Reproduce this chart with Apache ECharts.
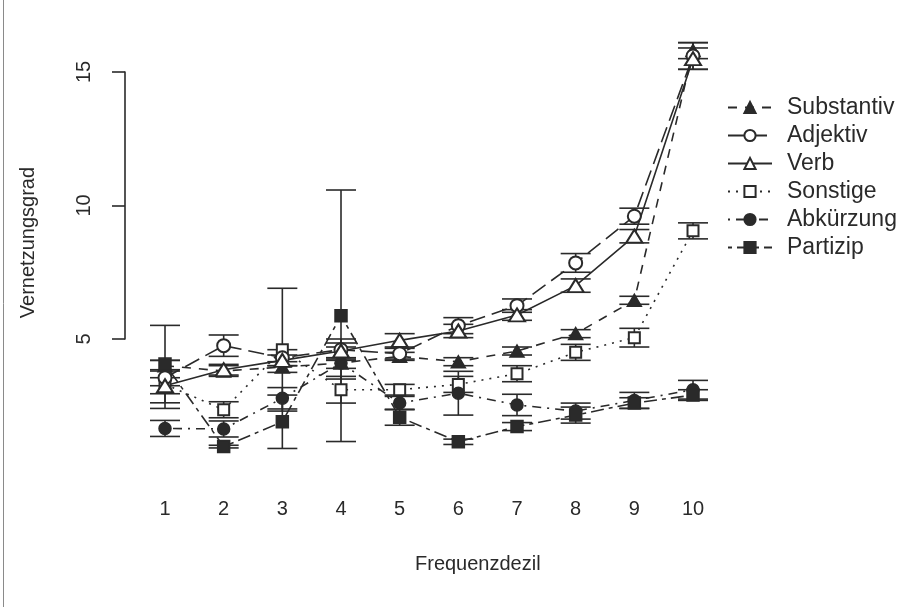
<!DOCTYPE html>
<html>
<head>
<meta charset="utf-8">
<script src="https://cdn.jsdelivr.net/npm/echarts@6/dist/echarts.min.js"></script>
<style>
html,body{margin:0;padding:0;background:#fff}
#main{width:916px;height:607px}
</style>
</head>
<body>
<div id="main"></div>
<script>
// Frequenzdezile
var deciles = ['1', '2', '3', '4', '5', '6', '7', '8', '9', '10'];
var yTicks = [5, 10, 15];

// Mittelwerte und Fehlerbalken je Wortart
var substantiv    = [4.0, 3.8, 3.95, 4.1, 4.35, 4.15, 4.55, 5.2, 6.45, 15.8];
var substantivErr = [0.2, 0.2, 0.2, 0.2, 0.15, 0.15, 0.15, 0.15, 0.15, 0.3];
var adjektiv      = [3.55, 4.75, 4.3, 4.6, 4.45, 5.5, 6.25, 7.85, 9.6, 15.6];
var adjektivErr   = [0.3, 0.4, 0.3, 0.4, 0.2, 0.3, 0.25, 0.35, 0.3, 0.5];
var verb          = [3.25, 3.85, 4.2, 4.55, 4.95, 5.3, 5.9, 7.0, 8.85, 15.5];
var verbErr       = [0.3, 0.2, 0.2, 0.3, 0.25, 0.25, 0.2, 0.25, 0.25, 0.4];
var sonstige      = [3.3, 2.35, 4.6, 3.1, 3.1, 3.3, 3.7, 4.5, 5.05, 9.05];
var sonstigeErr   = [0.9, 0.3, 2.3, 0.5, 0.2, 0.3, 0.3, 0.3, 0.35, 0.3];
var abkuerzung    = [1.65, 1.63, 2.78, 4.1, 2.6, 2.97, 2.53, 2.3, 2.7, 3.1];
var abkuerzungErr = [0.3, 0.3, 0.4, 0.6, 0.25, 0.82, 0.4, 0.3, 0.3, 0.35];
var partizip      = [4.06, 0.97, 1.9, 5.87, 2.07, 1.15, 1.72, 2.15, 2.6, 2.9];
var partizipErr   = [1.45, 0.05, 1.0, 4.71, 0.3, 0.1, 0.15, 0.3, 0.2, 0.2];

var ink = '#2a2a2a';
var font = 'Liberation Sans, Arial, sans-serif';

// order = legend order; layer = drawing order (higher on top)
var groups = [
    {name: 'Substantiv', values: substantiv, err: substantivErr, symbol: 'triangle', size: [14, 12], dash: [9, 8], layer: 3},
    {name: 'Adjektiv', values: adjektiv, err: adjektivErr, symbol: 'emptyCircle', size: 13, dash: [16, 7], layer: 4},
    {name: 'Verb', values: verb, err: verbErr, symbol: 'emptyTriangle', size: [16, 13], dash: 'solid', layer: 5},
    {name: 'Sonstige', values: sonstige, err: sonstigeErr, symbol: 'emptyRect', size: 11, dash: [2, 6], layer: 1},
    {name: 'Abkürzung', values: abkuerzung, err: abkuerzungErr, symbol: 'circle', size: 12, dash: [2, 6, 9, 6], layer: 2},
    {name: 'Partizip', values: partizip, err: partizipErr, symbol: 'rect', size: 12, dash: [4, 5, 13, 5], layer: 6}
];

// Fehlerbalken (Mittelwert +/- Fehler)
var errData = [];
groups.forEach(function (g) {
    g.values.forEach(function (v, i) {
        errData.push([i, v - g.err[i], v + g.err[i]]);
    });
});

function renderErrorBar(params, api) {
    var lo = api.coord([api.value(0), api.value(1)]);
    var hi = api.coord([api.value(0), api.value(2)]);
    var w = 15;
    var st = {stroke: ink, lineWidth: 1.6, fill: null};
    return {
        type: 'group',
        children: [
            {type: 'line', shape: {x1: hi[0], y1: hi[1], x2: lo[0], y2: lo[1]}, style: st},
            {type: 'line', shape: {x1: hi[0] - w, y1: hi[1], x2: hi[0] + w, y2: hi[1]}, style: st},
            {type: 'line', shape: {x1: lo[0] - w, y1: lo[1], x2: lo[0] + w, y2: lo[1]}, style: st}
        ]
    };
}

var series = [{
    type: 'custom',
    xAxisIndex: 0,
    yAxisIndex: 0,
    renderItem: renderErrorBar,
    encode: {x: 0, y: [1, 2]},
    data: errData,
    z: 1,
    silent: true
}];

groups.slice().sort(function (a, b) { return a.layer - b.layer; }).forEach(function (g) {
    series.push({
        name: g.name,
        type: 'line',
        xAxisIndex: 0,
        yAxisIndex: 0,
        data: g.values,
        symbol: g.symbol,
        symbolSize: g.size,
        showAllSymbol: true,
        lineStyle: {color: ink, width: 1.6, type: g.dash},
        itemStyle: {color: ink, borderColor: ink, borderWidth: 1.5},
        z: 3,
        animation: false
    });
});

var chart = echarts.init(document.getElementById('main'));

var option = {
    backgroundColor: '#fff',
    animation: false,
    textStyle: {fontFamily: font, color: ink},
    legend: {
        data: groups.map(function (g) { return g.name; }),
        orient: 'vertical',
        left: 722,
        top: 91,
        itemWidth: 44,
        itemHeight: 14,
        itemGap: 5,
        textStyle: {fontFamily: font, fontSize: 23, color: ink, padding: [0, 0, 0, 10]}
    },
    grid: [
        {left: 135.67, width: 586.67, top: 18.6, height: 453.9},
        {left: 125, width: 597, top: 72, height: 267}
    ],
    xAxis: [{
        type: 'category',
        gridIndex: 0,
        data: deciles,
        boundaryGap: true,
        axisLine: {show: false},
        axisTick: {show: false},
        axisLabel: {fontSize: 20, color: ink, fontFamily: font, margin: 27}
    }, {
        type: 'category',
        gridIndex: 1,
        data: deciles,
        show: false
    }],
    yAxis: [{
        type: 'value',
        gridIndex: 0,
        min: 0,
        max: 17,
        axisLine: {show: false},
        axisTick: {show: false},
        axisLabel: {show: false},
        splitLine: {show: false},
        name: 'Vernetzungsgrad',
        nameLocation: 'middle',
        nameRotate: 90,
        nameGap: 97,
        nameTextStyle: {fontSize: 20, color: ink, fontFamily: font, padding: [0, 0, 0, 6]}
    }, {
        type: 'value',
        gridIndex: 1,
        min: yTicks[0],
        max: yTicks[yTicks.length - 1],
        interval: 5,
        axisLine: {show: true, lineStyle: {color: ink, width: 1.6}},
        axisTick: {show: true, length: 13, lineStyle: {color: ink, width: 1.6}},
        axisLabel: {rotate: 90, fontSize: 20, color: ink, fontFamily: font, margin: 31},
        splitLine: {show: false}
    }],
    graphic: [{
        type: 'line',
        shape: {x1: 3.5, y1: 0, x2: 3.5, y2: 607},
        style: {stroke: '#8a8a8a', lineWidth: 1},
        silent: true
    }, {
        type: 'text',
        left: 415,
        top: 554,
        style: {text: 'Frequenzdezil', fontSize: 20, fontFamily: font, fill: ink}
    }],
    series: series
};

chart.setOption(option);
</script>
</body>
</html>
